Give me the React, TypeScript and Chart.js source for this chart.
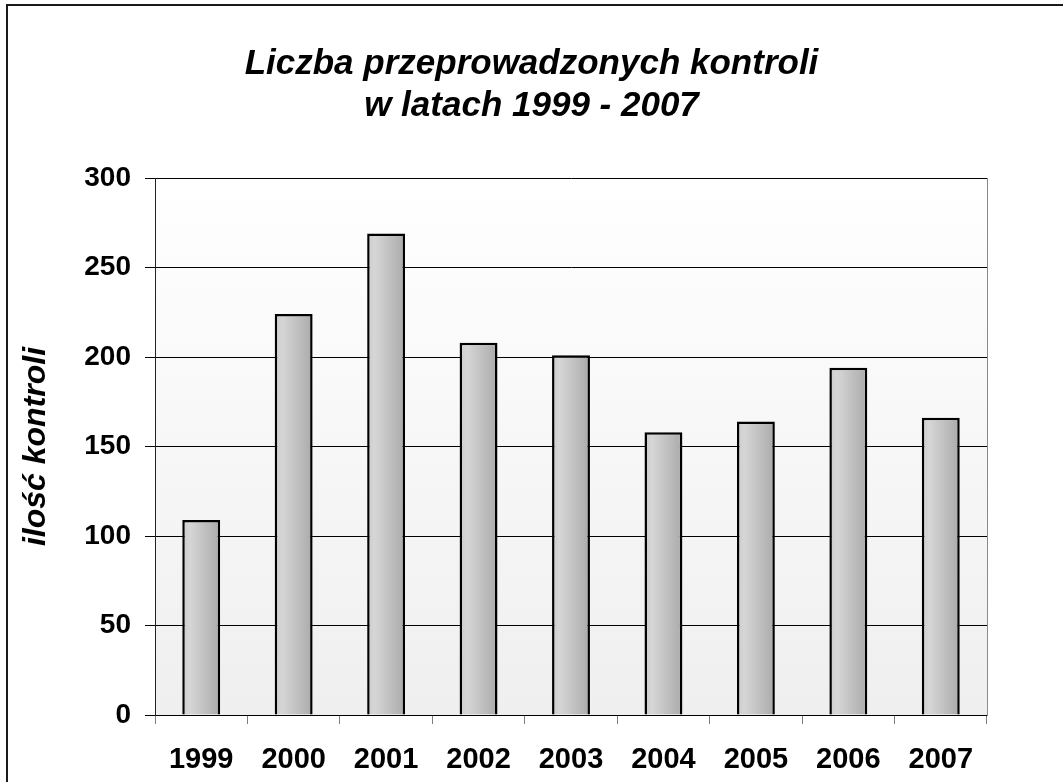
import React, { useEffect, useRef } from "react";
import { Chart, registerables } from "chart.js";

Chart.register(...registerables);

const years = ["1999", "2000", "2001", "2002", "2003", "2004", "2005", "2006", "2007"];
const controls = [109, 224, 269, 208, 201, 158, 164, 194, 166];
const titleLines = ["Liczba przeprowadzonych kontroli", "w latach 1999 - 2007"];
const yAxisTitle = "ilość kontroli";
const yMin = 0;
const yMax = 300;
const yStep = 50;

const FONT = "'Liberation Sans', Arial, sans-serif";
const W = 1063;
const H = 782;
const BAR_PCT = 0.41;

const plotBg = {
  id: "plotBg",
  beforeDraw(chart: any) {
    const { ctx, chartArea: a } = chart;
    ctx.save();
    ctx.fillStyle = "#ffffff";
    ctx.fillRect(0, 0, chart.width, chart.height);
    const g = ctx.createLinearGradient(0, a.top, 0, a.bottom);
    g.addColorStop(0, "#ffffff");
    g.addColorStop(1, "#efefef");
    ctx.fillStyle = g;
    ctx.fillRect(a.left, a.top, a.right - a.left, a.bottom - a.top);
    ctx.lineWidth = 2;
    ctx.strokeStyle = "#1a1a1a";
    ctx.strokeRect(7, 5, 1300, 1000);
    ctx.restore();
  },
};

export default function App() {
  const ref = useRef<HTMLCanvasElement | null>(null);

  useEffect(() => {
    if (!ref.current) return;
    const chart = new Chart(ref.current, {
      type: "bar",
      data: {
        labels: years,
        datasets: [
          {
            data: controls,
            backgroundColor: (c: any) => {
              const ch = c.chart;
              const a = ch.chartArea;
              const xs = ch.scales.x;
              if (!a || !xs || c.dataIndex === undefined) return "#c4c4c4";
              const cx = xs.getPixelForValue(c.dataIndex);
              const half = ((a.right - a.left) / years.length) * BAR_PCT / 2;
              const g = ch.ctx.createLinearGradient(cx - half, 0, cx + half, 0);
              g.addColorStop(0, "#cccccc");
              g.addColorStop(0.2, "#d6d6d6");
              g.addColorStop(1, "#aaaaaa");
              return g;
            },
            borderColor: "#000000",
            borderWidth: 2.5,
            barPercentage: BAR_PCT,
            categoryPercentage: 1,
          },
        ],
      },
      plugins: [plotBg],
      options: {
        responsive: false,
        animation: false,
        devicePixelRatio: 1,
        layout: { padding: { top: 43, left: 0, right: 0, bottom: 0 } },
        plugins: {
          legend: { display: false },
          tooltip: { enabled: false },
          title: {
            display: true,
            text: titleLines,
            color: "#000",
            font: { family: FONT, size: 35, weight: "bold", style: "italic", lineHeight: 1.2 },
            padding: { top: 0, bottom: 51 },
          },
        },
        scales: {
          x: {
            offset: true,
            grid: {
              display: true,
              offset: true,
              drawOnChartArea: false,
              drawTicks: true,
              tickLength: 9,
              color: "#808080",
            },
            border: { display: true, color: "#000" },
            ticks: {
              color: "#000",
              padding: 19,
              font: { family: FONT, size: 29, weight: "bold" },
              maxRotation: 0,
            },
            afterFit: (s: any) => {
              s.height = 67;
            },
          },
          y: {
            min: yMin,
            max: yMax,
            position: "left",
            ticks: {
              stepSize: yStep,
              color: "#000",
              padding: 14,
              font: { family: FONT, size: 28, weight: "bold" },
            },
            grid: { color: "#000", tickColor: "#000", tickLength: 10, lineWidth: 1 },
            border: { display: true, color: "#222", width: 1 },
            title: {
              display: true,
              text: yAxisTitle,
              color: "#000",
              font: { family: FONT, size: 32, weight: "bold", style: "italic", lineHeight: 1.2 },
              padding: { top: 17, bottom: 0 },
            },
            afterFit: (s: any) => {
              s.width = 155;
            },
          },
          yr: {
            type: "linear",
            position: "right",
            display: true,
            grid: { display: false, drawTicks: false },
            ticks: { display: false },
            border: { display: true, color: "#8a8a8a", width: 1 },
            afterFit: (s: any) => {
              s.width = W - 987;
            },
          },
        },
      } as any,
    });
    return () => chart.destroy();
  }, []);

  return (
    <div style={{ position: "absolute", left: 0, top: 0, width: W, height: H }}>
      <canvas ref={ref} width={W} height={H} style={{ display: "block", width: W, height: H }} />
    </div>
  );
}
